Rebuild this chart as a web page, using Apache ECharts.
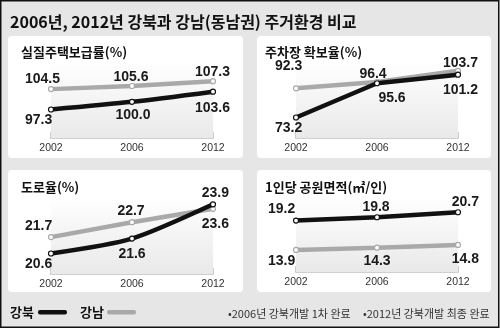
<!DOCTYPE html>
<html><head><meta charset="utf-8">
<script src="https://cdn.jsdelivr.net/npm/echarts@6/dist/echarts.min.js"></script>
<style>html,body{margin:0;padding:0;background:#fff}#c{width:500px;height:328px}</style>
</head><body><div id="c"></div>
<script>
// ---- data ----
const mainTitle = '2006년, 2012년 강북과 강남(동남권) 주거환경 비교';
const years = ['2002', '2006', '2012'];
const panelTitles = ['실질주택보급률(%)', '주차장 확보율(%)', '도로율(%)', '1인당 공원면적(㎡/인)'];
const seriesNames = ['강북', '강남'];
const gangbukHousing = [97.3, 100.0, 103.6];
const gangnamHousing = [104.5, 105.6, 107.3];
const gangbukParking = [73.2, 95.6, 101.2];
const gangnamParking = [92.3, 96.4, 103.7];
const gangbukRoad = [20.6, 21.6, 23.9];
const gangnamRoad = [21.7, 22.7, 23.6];
const gangbukPark = [19.2, 19.8, 20.7];
const gangnamPark = [13.9, 14.3, 14.8];
const notes = ['•2006년 강북개발 1차 완료', '•2012년 강북개발 최종 완료'];

const dataSets = [
  [gangbukHousing, gangnamHousing],
  [gangbukParking, gangnamParking],
  [gangbukRoad, gangnamRoad],
  [gangbukPark, gangnamPark]
];

// ---- layout / style (not data) ----
const panels = [
  {rect:[8,36,235,122], left:51, width:162, top:62, bottom:138, aV:97.3, aY:109.5, slope:2.83, tx:21, ty:52, smooth:true,
   lb:[['left',-26,11],['center',1,13],['right',17,16]], ln:[['left',-26,-10],['center',-1,-9],['right',17,-9]]},
  {rect:[257,36,234,122], left:296, width:162, top:62, bottom:138, aV:93.73, aY:86.1, slope:1.53, tx:265, ty:52, smooth:false,
   lb:[['left',-21,11],['center',15,15],['right',20,15]], ln:[['left',-21,-22],['center',-4,-8],['right',20,-8]]},
  {rect:[8,170,235,122], left:51, width:162, top:196, bottom:274, aV:20.6, aY:253.5, slope:14.9, tx:21, ty:187, smooth:true,
   lb:[['left',-26,11],['center',0,16],['right',16,-11]], ln:[['left',-26,-11],['center',-1,-11],['right',16,15]]},
  {rect:[257,170,234,122], left:296, width:162, top:196, bottom:272, aV:17.117, aY:232.1, slope:5.54, tx:265, ty:187, smooth:false,
   lb:[['left',-28,-11],['center',-1,-10],['right',21,-10]], ln:[['left',-28,11],['center',0,13],['right',21,14]]}
];
const colors = ['#111111', '#a9a9a9'];
const KR = '"Noto Sans CJK KR", sans-serif';
const NUM = '"Liberation Sans", Arial, sans-serif';

const grids = [], xAxes = [], yAxes = [], series = [], graphics = [];

graphics.push({type:'rect', z:-20, shape:{x:0.75,y:0.75,width:498,height:326.5}, style:{fill:'#e6e6e6', stroke:'#111', lineWidth:1.5}});
graphics.push({type:'text', z:10, x:10, y:22, style:{text:mainTitle, fontSize:16, fontWeight:'bold', fontFamily:KR, fill:'#111', verticalAlign:'middle'}});

panels.forEach((p, gi) => {
  graphics.push({type:'rect', z:-10, shape:{x:p.rect[0], y:p.rect[1], width:p.rect[2], height:p.rect[3], r:4}, style:{fill:'#ffffff'}});
  graphics.push({type:'text', z:10, x:p.tx, y:p.ty, style:{text:panelTitles[gi], fontSize:13, fontWeight:'bold', fontFamily:KR, fill:'#111', verticalAlign:'middle'}});
  const min = p.aV - (p.bottom - p.aY) / p.slope;
  const max = p.aV + (p.aY - p.top) / p.slope;
  grids.push({left:p.left, width:p.width, top:p.top, height:p.bottom - p.top, show:true, borderWidth:0, z:1,
    backgroundColor:{type:'linear', x:0, y:0, x2:0, y2:1, colorStops:[{offset:0, color:'rgba(255,255,255,1)'},{offset:1, color:'#e9e9e9'}]}});
  xAxes.push({type:'category', gridIndex:gi, data:years, boundaryGap:false,
    axisLine:{lineStyle:{color:'#cfcfcf', width:2}},
    axisTick:{show:true, inside:true, length:6, lineStyle:{color:'#bdbdbd', width:1.5}},
    axisLabel:{margin:5, fontSize:10.5, fontFamily:NUM, color:'#333'}});
  yAxes.push({type:'value', gridIndex:gi, min:min, max:max, show:false, splitLine:{show:false}});
  const specs = [p.lb, p.ln];
  [1, 0].forEach(si => {
    const vals = dataSets[gi][si];
    const spec = specs[si];
    series.push({
      type:'line', name:seriesNames[si], xAxisIndex:gi, yAxisIndex:gi, z:si === 0 ? 4 : 3,
      smooth: (si === 0 && p.smooth) ? 0.25 : false,
      symbol:'circle', symbolSize:5, showSymbol:true,
      lineStyle:{color:colors[si], width:4.5, cap:'round'},
      itemStyle:{color:'#ffffff', borderColor:colors[si], borderWidth:1.2},
      label:{show:true, position:'inside', color:'#1a1a1a', fontSize:14, fontWeight:'bold', fontFamily:NUM, verticalAlign:'middle',
        formatter: q => Number(q.value).toFixed(1)},
      data: vals.map((v, i) => ({value:v, label:{align:spec[i][0], offset:[spec[i][1], spec[i][2]]}})),
      silent:true, animation:false
    });
  });
});

// legend (drawn)
graphics.push({type:'text', z:10, x:10, y:312, style:{text:seriesNames[0], fontSize:13, fontWeight:'bold', fontFamily:KR, fill:'#111', verticalAlign:'middle'}});
graphics.push({type:'rect', z:10, shape:{x:38, y:310, width:29, height:4.5, r:2}, style:{fill:colors[0]}});
graphics.push({type:'text', z:10, x:80, y:312, style:{text:seriesNames[1], fontSize:13, fontWeight:'bold', fontFamily:KR, fill:'#111', verticalAlign:'middle'}});
graphics.push({type:'rect', z:10, shape:{x:107, y:310, width:29, height:4.5, r:2}, style:{fill:colors[1]}});
graphics.push({type:'text', z:10, x:228, y:314, style:{text:notes[0], fontSize:11, fontFamily:KR, fill:'#333', verticalAlign:'middle'}});
graphics.push({type:'text', z:10, x:363, y:314, style:{text:notes[1], fontSize:11, fontFamily:KR, fill:'#333', verticalAlign:'middle'}});

const chart = echarts.init(document.getElementById('c'), null, {renderer:'canvas'});
chart.setOption({animation:false, grid:grids, xAxis:xAxes, yAxis:yAxes, series:series, graphic:{elements:graphics}});
</script></body></html>
